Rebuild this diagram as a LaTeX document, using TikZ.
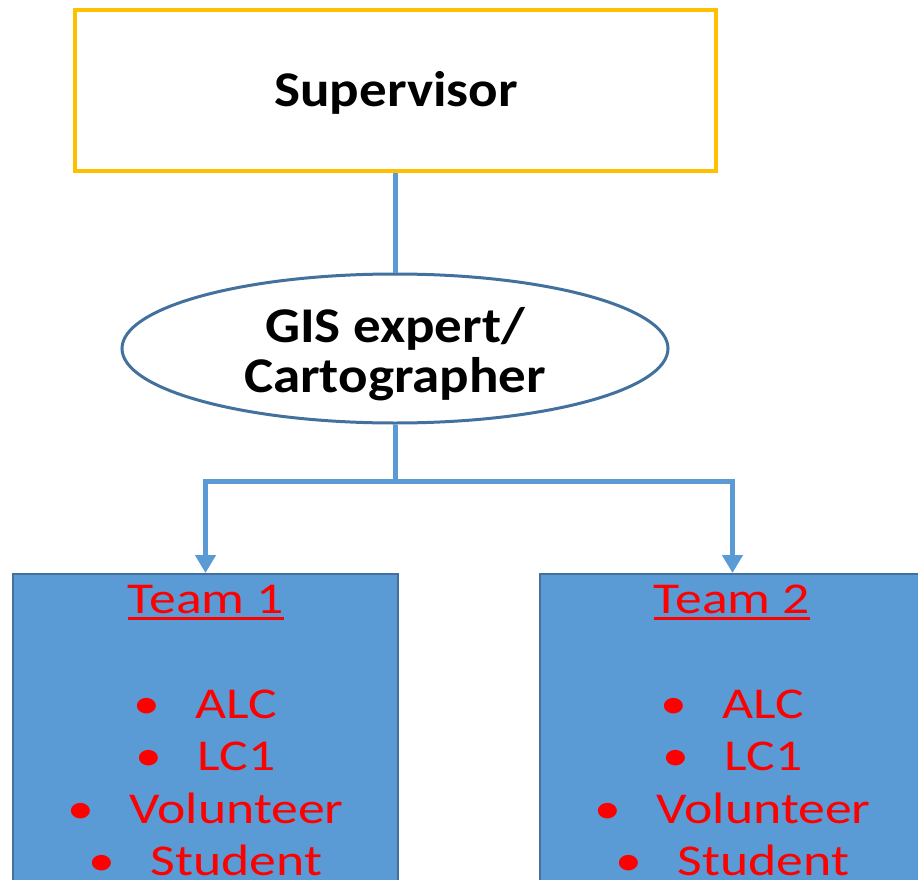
\documentclass[tikz,border=0pt]{standalone}
\usepackage{fontspec}
\setmainfont{Carlito}
\newfontfamily\boldwide[FakeStretch=1.10]{Carlito}
\newfontfamily\teamwide[FakeStretch=1.22]{Carlito}
\usetikzlibrary{shapes.geometric,arrows.meta}
\definecolor{supborder}{HTML}{FFC000}
\definecolor{linkblue}{HTML}{5B9BD5}
\definecolor{ellborder}{HTML}{41719C}
\definecolor{teamfill}{HTML}{5B9BD5}
\definecolor{teamred}{HTML}{FF0000}
\tikzset{
  supbox/.style={draw=supborder, line width=4pt, fill=white, minimum width=641pt, minimum height=161pt, inner sep=0pt},
  boldtext/.style={inner sep=0pt, anchor=base, align=center, font=\boldwide\fontsize{50}{50}\selectfont\bfseries},
  ellbox/.style={ellipse, draw=ellborder, line width=3pt, fill=white, minimum width=546pt, minimum height=149pt, inner sep=0pt},
  teambox/.style={draw=ellborder, line width=1.5pt, fill=teamfill, minimum width=385pt, minimum height=400pt, inner sep=0pt, anchor=north},
  teamline/.style={text=teamred, font=\teamwide\fontsize{44}{52}\selectfont, inner sep=0pt, anchor=base},
  link/.style={draw=linkblue, line width=5pt},
  linkarrow/.style={link, -{Triangle[width=20pt,length=18pt]}}
}
\newcommand{\bul}[1]{\makebox[62pt][l]{\textbullet}#1}
\newcommand{\teamhead}[1]{\setbox0\hbox{#1}\rlap{\raisebox{-6.5pt}{\rule{\wd0}{3pt}}}\box0}
\begin{document}
\begin{tikzpicture}[x=1pt,y=-1pt]
\useasboundingbox (0,0) rectangle (918,880);
\node[supbox] (sup) at (395,90.5) {};
\node[boldtext] (suptxt) at (396,107) {Supervisor};
\node[ellbox] (gis) at (395,348.5) {};
\node[boldtext] (gistxt1) at (395,342) {GIS expert/};
\node[boldtext] (gistxt2) at (395,392) {Cartographer};
\node[teambox] (t1) at (205.5,573) {};
\node[teambox] (t2) at (732.5,573) {};
\coordinate (j) at (395,481);
\draw[link] (sup.south) -- (gis.north);
\draw[linkarrow] (gis.south) -- (j) -| (t1.north);
\draw[linkarrow] (j) -| (t2.north);
% team 1 text
\node[teamline] (t1h) at (206,613) {\teamhead{Team 1}};
\node[teamline] (t1a) at (205.5,718) {\bul{ALC}};
\node[teamline] (t1b) at (205.5,770) {\bul{LC1}};
\node[teamline] (t1c) at (205.5,823) {\bul{Volunteer}};
\node[teamline] (t1d) at (205.5,875) {\bul{Student}};
% team 2 text
\node[teamline] (t2h) at (732,613) {\teamhead{Team 2}};
\node[teamline] (t2a) at (732.5,718) {\bul{ALC}};
\node[teamline] (t2b) at (732.5,770) {\bul{LC1}};
\node[teamline] (t2c) at (732.5,823) {\bul{Volunteer}};
\node[teamline] (t2d) at (732.5,875) {\bul{Student}};
\end{tikzpicture}
\end{document}
